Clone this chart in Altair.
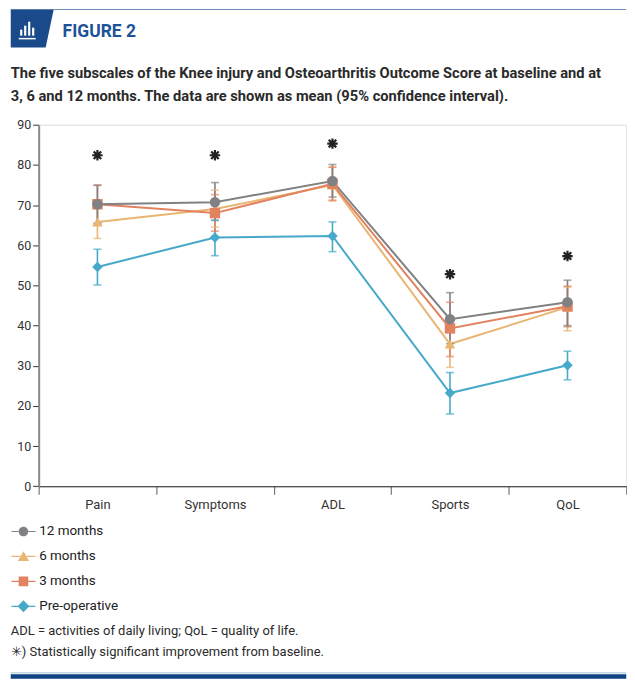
import altair as alt
import pandas as pd

categories = ["Pain", "Symptoms", "ADL", "Sports", "QoL"]
series = ["Pre-operative", "6 months", "3 months", "12 months"]
legend_order = ["12 months", "6 months", "3 months", "Pre-operative"]
colors = {"12 months": "#808184", "6 months": "#e8b573", "3 months": "#e3825f", "Pre-operative": "#47a9c9"}
shapes = {"12 months": "circle", "6 months": "triangle-up", "3 months": "square", "Pre-operative": "diamond"}

mean_pre = [54.6, 61.9, 62.3, 23.2, 30.1]
lo_pre = [50.1, 57.4, 58.4, 18.0, 26.5]
hi_pre = [59.0, 66.2, 65.8, 28.3, 33.6]

mean_3m = [70.2, 68.0, 75.3, 39.3, 44.8]
lo_3m = [65.3, 63.5, 71.2, 32.3, 39.7]
hi_3m = [75.0, 72.6, 79.4, 45.8, 49.8]

mean_6m = [65.8, 69.0, 75.0, 35.4, 44.6]
lo_6m = [61.7, 64.5, 71.0, 29.6, 38.7]
hi_6m = [70.0, 73.7, 79.5, 41.5, 49.5]

mean_12m = [70.2, 70.7, 76.0, 41.6, 45.8]
lo_12m = [65.5, 66.2, 72.0, 35.5, 40.0]
hi_12m = [74.9, 75.6, 80.1, 48.2, 51.3]

star_cats = ["Pain", "Symptoms", "ADL", "Sports", "QoL"]
star_y = [82.4, 82.4, 85.3, 52.8, 57.3]

y_ticks = [0, 10, 20, 30, 40, 50, 60, 70, 80, 90]

title_text = "FIGURE 2"
desc_lines = [
    "The five subscales of the Knee injury and Osteoarthritis Outcome Score at baseline and at",
    "3, 6 and 12 months. The data are shown as mean (95% confidence interval).",
]
foot_lines = [
    "ADL = activities of daily living; QoL = quality of life.",
    "\u2733) Statistically significant improvement from baseline.",
]

FONT = "Roboto"
PAD = {"left": -0.25, "top": -0.8, "right": -2.25, "bottom": 0}

rows = []
for name, m, lo, hi in [("Pre-operative", mean_pre, lo_pre, hi_pre),
                        ("6 months", mean_6m, lo_6m, hi_6m),
                        ("3 months", mean_3m, lo_3m, hi_3m),
                        ("12 months", mean_12m, lo_12m, hi_12m)]:
    for c, a, b, d in zip(categories, m, lo, hi):
        rows.append({"cat": c, "series": name, "mean": a, "lo": b, "hi": d})
df = pd.DataFrame(rows)
df["order"] = df["series"].map({s: i for i, s in enumerate(series)})

W, H = 589, 362.4

xs = alt.X("cat:N", sort=categories, scale=alt.Scale(domain=categories, paddingInner=0, paddingOuter=0),
           axis=alt.Axis(title=None, labelAngle=0, tickBand="extent", tickSize=8, tickColor="#777",
                         tickWidth=1.2, domainColor="#222", domainWidth=1.2, labelFontSize=13,
                         labelColor="#333", labelFont=FONT, labelPadding=4))
ys = alt.Y("mean:Q", scale=alt.Scale(domain=[0, 90], nice=False),
           axis=alt.Axis(title=None, values=y_ticks, tickSize=6, tickColor="#333", tickWidth=1,
                         domainColor="#8a8a8a", domainWidth=2, labelFontSize=12.5, labelColor="#333",
                         labelFont=FONT, grid=False, labelPadding=2))

col_nolegend = alt.Color("series:N", scale=alt.Scale(domain=legend_order, range=[colors[s] for s in legend_order]),
                         legend=None)

base = alt.Chart(df)

lines = base.mark_line(strokeWidth=2).encode(x=xs, y=ys, color=col_nolegend, order="order:Q")
rules = base.mark_rule(strokeWidth=1.6).encode(x=alt.X("cat:N", sort=categories), y="lo:Q", y2="hi:Q",
                                               color=col_nolegend)
caps_lo = base.mark_tick(orient="horizontal", size=8, thickness=1.6).encode(
    x=alt.X("cat:N", sort=categories), y="lo:Q", color=col_nolegend)
caps_hi = base.mark_tick(orient="horizontal", size=8, thickness=1.6).encode(
    x=alt.X("cat:N", sort=categories), y="hi:Q", color=col_nolegend)
points = base.mark_point(filled=True, opacity=1, size=110).encode(
    x=alt.X("cat:N", sort=categories), y="mean:Q", color=col_nolegend,
    shape=alt.Shape("series:N", scale=alt.Scale(domain=legend_order, range=[shapes[s] for s in legend_order]),
                    legend=None))

# legend layer (points clipped away, only legend shown)
bar = lambda a: f"M-2,-0.1H{-a}V0.1H-2Z M{a},-0.1H2V0.1H{a}Z "
leg_paths = {
    "12 months": bar(0.75) + "M-0.8,0A0.8,0.8 0 1,0 0.8,0A0.8,0.8 0 1,0 -0.8,0Z",
    "6 months": bar(0.55) + "M0,-0.85L0.95,0.75L-0.95,0.75Z",
    "3 months": bar(0.8) + "M-0.8,-0.8H0.8V0.8H-0.8Z",
    "Pre-operative": bar(0.95) + "M0,-1L1,0L0,1L-1,0Z",
}
leg_kw = dict(title=None, orient="none", legendX=-22, legendY=401, symbolSize=144,
              labelOffset=9, rowPadding=10, labelFontSize=13.5, labelColor="#222",
              labelFont=FONT, symbolStrokeWidth=0, symbolOpacity=1)
leg_df = pd.DataFrame({"series": legend_order, "cat": ["Pain"] * 4, "yy": [-50] * 4})
legend_layer = alt.Chart(leg_df).mark_point(filled=True, clip=True, opacity=1, strokeWidth=0).encode(
    x=alt.X("cat:N", sort=categories), y=alt.Y("yy:Q"),
    color=alt.Color("series:N", scale=alt.Scale(domain=legend_order, range=[colors[s] for s in legend_order]),
                    legend=alt.Legend(**leg_kw)),
    shape=alt.Shape("series:N", scale=alt.Scale(domain=legend_order, range=[leg_paths[s] for s in legend_order]),
                    legend=alt.Legend(**leg_kw)),
)

star_path = "M0,-1L0,1M-1,0L1,0M-0.72,-0.72L0.72,0.72M-0.72,0.72L0.72,-0.72"
stars = alt.Chart(pd.DataFrame({"cat": star_cats, "y": star_y})).mark_point(
    shape=star_path, filled=False, strokeWidth=2.2, size=110, color="#222", opacity=1).encode(
    x=alt.X("cat:N", sort=categories), y="y:Q")

one = pd.DataFrame({"t": [title_text]})
top_line = alt.Chart(one).mark_rule(color="#6f90b8", strokeWidth=1.2).encode(
    x=alt.value(-28), x2=alt.value(W), y=alt.value(-115.5))
icon_path = "M-1,-0.95L1.15,-0.95L0.75,0.95L-1,0.95Z"
icon = alt.Chart(one).mark_point(shape=icon_path, filled=True, size=1600, color="#1a4a8a", opacity=1,
                                 strokeWidth=0).encode(x=alt.value(-8), y=alt.value(-96.3))
icon_bars_df = pd.DataFrame({"bx": [-17.5, -13.5, -9.5, -5.5], "top": [-95.3, -99.3, -103.3, -97.3]})
icon_bars = alt.Chart(icon_bars_df).mark_rule(color="white", strokeWidth=2.2).encode(
    x=alt.X("bx:Q", scale=None), y=alt.Y("top:Q", scale=None), y2=alt.value(-89.3))
icon_base = alt.Chart(one).mark_rule(color="white", strokeWidth=1.5).encode(
    x=alt.value(-20), x2=alt.value(-3), y=alt.value(-86.3))
fig_title = alt.Chart(one).mark_text(align="left", baseline="middle", fontSize=17.5, fontWeight="bold",
                                     color="#1c5299", font=FONT).encode(
    x=alt.value(24), y=alt.value(-93), text="t:N")
desc = alt.Chart(pd.DataFrame({"t": desc_lines, "yy": [-51, -28]})).mark_text(
    align="left", baseline="middle", fontSize=14.7, fontWeight="bold", color="#2a2a2a", font=FONT).encode(
    x=alt.value(-28), y=alt.Y("yy:Q", scale=None), text="t:N")
foot = alt.Chart(pd.DataFrame({"t": foot_lines, "yy": [508, 528.5]})).mark_text(
    align="left", baseline="middle", fontSize=13, color="#2a2a2a", font=FONT).encode(
    x=alt.value(-28), y=alt.Y("yy:Q", scale=None), text="t:N")
bottom_light = alt.Chart(one).mark_rule(color="#a9bfd8", strokeWidth=1).encode(
    x=alt.value(-28), x2=alt.value(W), y=alt.value(549.5))
bottom_bar = alt.Chart(one).mark_rule(color="#0d4283", strokeWidth=4.5).encode(
    x=alt.value(-28), x2=alt.value(W), y=alt.value(553))

chart = alt.layer(
    lines, rules, caps_lo, caps_hi, points, legend_layer, stars,
    top_line, icon, icon_bars, icon_base, fig_title, desc, foot, bottom_light, bottom_bar,
).resolve_scale(color="independent", shape="independent").properties(
    width=W, height=H, padding=PAD, autosize=alt.AutoSizeParams(type="pad")
).configure_view(stroke=None).configure(font=FONT)

chart.save("out.html", embed_options={"renderer": "svg", "actions": False})
